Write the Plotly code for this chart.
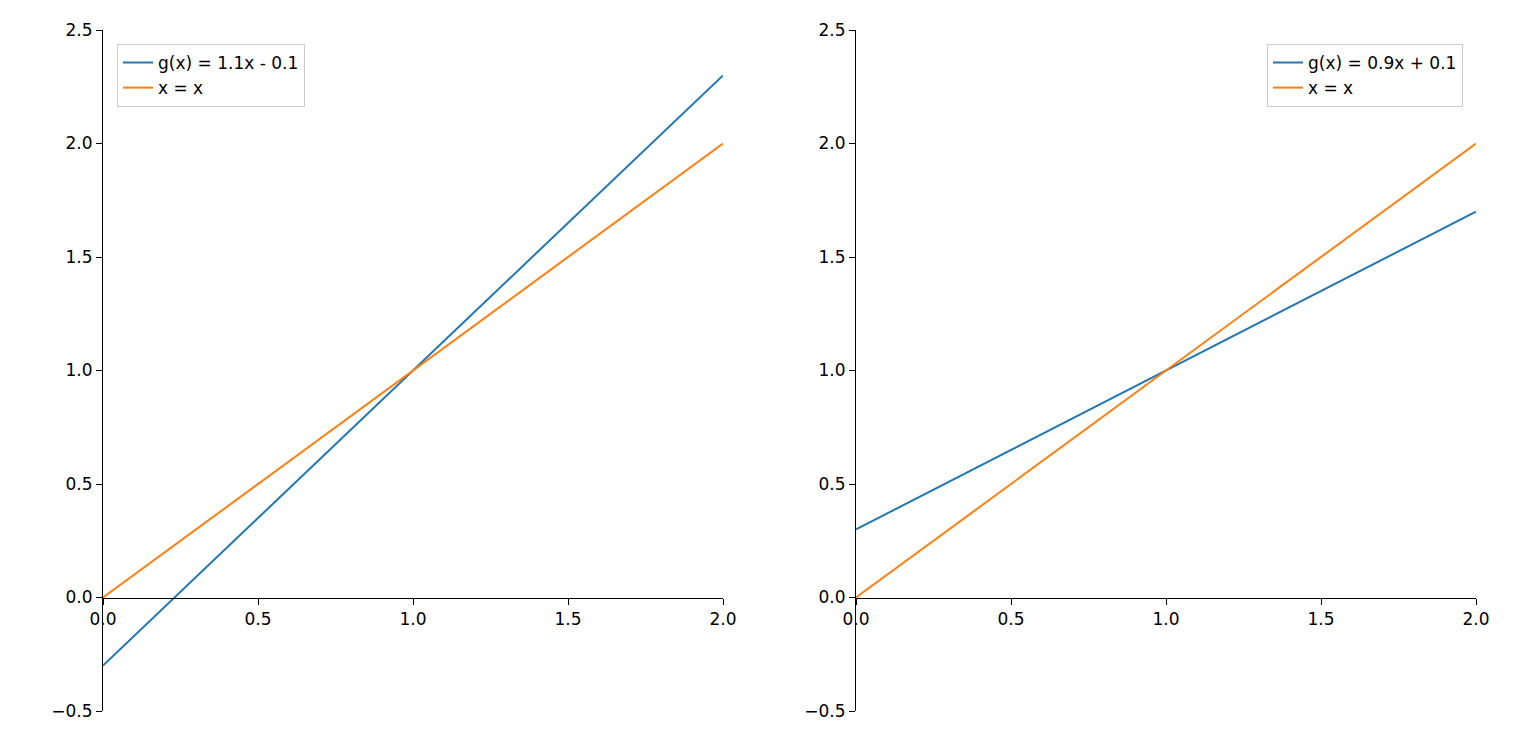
import plotly.graph_objects as go

x_vals = [0.0, 2.0]
left_g = [-0.3, 2.3]
right_g = [0.3, 1.7]
identity = [0.0, 2.0]
left_label = "g(x) = 1.1x - 0.1"
right_label = "g(x) = 0.9x + 0.1"
blue = "#1f77b4"
orange = "#ff7f0e"

fig = go.Figure()
fig.add_trace(go.Scatter(x=x_vals, y=left_g, mode="lines", name=left_label, line=dict(color=blue, width=2), xaxis="x", yaxis="y", legend="legend"))
fig.add_trace(go.Scatter(x=x_vals, y=identity, mode="lines", name="x = x", line=dict(color=orange, width=2), xaxis="x", yaxis="y", legend="legend"))
fig.add_trace(go.Scatter(x=x_vals, y=right_g, mode="lines", name=right_label, line=dict(color=blue, width=2), xaxis="x2", yaxis="y2", legend="legend2"))
fig.add_trace(go.Scatter(x=x_vals, y=identity, mode="lines", name="x = x", line=dict(color=orange, width=2), xaxis="x2", yaxis="y2", legend="legend2"))

W, H = 1516, 746
l, r, t, b = 95, 48, 20, 43
pw = W - l - r
ph = H - t - b
d1 = [0, 620 / pw]
d2 = [(pw - 620) / pw, 1]
xpos = 0.5 / 3.0

common_x = dict(range=[0, 2], tickvals=[0, 0.5, 1, 1.5, 2], tickformat=".1f", showline=True, linecolor="black", linewidth=1,
                ticks="outside", ticklen=6, tickcolor="black", showgrid=False, zeroline=False, anchor="free", position=xpos)
common_y = dict(range=[-0.5, 2.5], tickvals=[-0.5, 0, 0.5, 1, 1.5, 2, 2.5], tickformat=".1f", showline=True, linecolor="black", linewidth=1,
                ticks="outside", ticklen=6, tickcolor="black", showgrid=False, zeroline=False, domain=[0, 1])

leg = dict(bgcolor="rgba(255,255,255,0.8)", bordercolor="#cccccc", borderwidth=1, font=dict(size=17), yanchor="top")
fig.update_layout(
    width=W, height=H, margin=dict(l=l, r=r, t=t, b=b),
    paper_bgcolor="white", plot_bgcolor="white",
    font=dict(family="DejaVu Sans", size=17, color="black"),
    xaxis=dict(domain=d1, **common_x),
    yaxis=dict(anchor="x", **common_y),
    xaxis2=dict(domain=d2, **common_x),
    yaxis2=dict(anchor="x2", **common_y),
    legend=dict(x=14 / pw, y=1 - 14 / ph, xanchor="left", **leg),
    legend2=dict(x=1 - 13 / pw, y=1 - 14 / ph, xanchor="right", **leg),
)
fig.write_html("out.html")
